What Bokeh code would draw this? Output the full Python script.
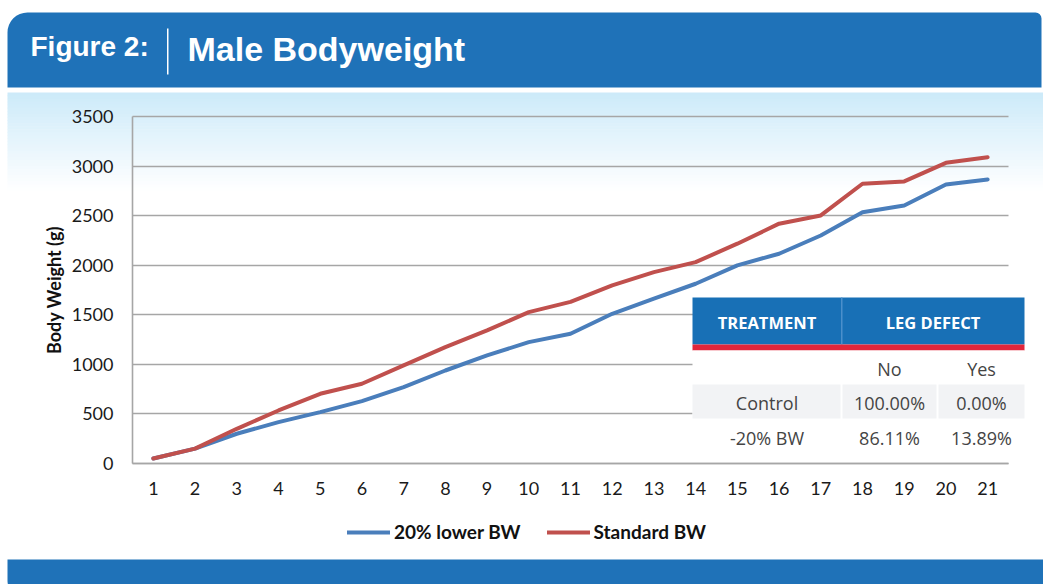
from bokeh.plotting import figure
from bokeh.models import Range1d, FixedTicker, BoxAnnotation, Label, Legend, LegendItem
from bokeh.embed import file_html
from bokeh.resources import INLINE

# ---------------- data ----------------
days = [1, 2, 3, 4, 5, 6, 7, 8, 9, 10, 11, 12, 13, 14, 15, 16, 17, 18, 19, 20, 21]
lower_bw = [50, 150, 300, 417, 518, 629, 770, 938, 1090, 1224, 1308, 1510, 1662,
            1813, 1998, 2116, 2300, 2535, 2603, 2815, 2865]
standard_bw = [50, 150, 350, 535, 703, 804, 989, 1173, 1342, 1527, 1630, 1796, 1930,
               2031, 2217, 2419, 2502, 2822, 2845, 3033, 3090]
series_names = ["20% lower BW", "Standard BW"]
y_ticks = [0, 500, 1000, 1500, 2000, 2500, 3000, 3500]

table_head = ["TREATMENT", "LEG DEFECT"]
table_cols = ["No", "Yes"]
treatments = ["Control", "-20% BW"]
leg_no = ["100.00%", "86.11%"]
leg_yes = ["0.00%", "13.89%"]

title_prefix = "Figure 2:"
title_text = "Male Bodyweight"

# ---------------- styles ----------------
BLUE_LINE = "#4a7ebb"
RED_LINE = "#c0504d"
HEADER_BLUE = "#1f72b8"
TABLE_BLUE = "#1870b6"
TABLE_RED = "#e1263b"
GRID = "#a6a6a6"

W, H = 1043, 584
# plot area in page pixels: day 0.5..21.5 -> x 132..1008, value 0..3500 -> y 463..116
FL, FR, FT, FB = 132, 1008, 116, 463
px_day = (FR - FL) / 21.0
px_val = (FB - FT) / 3500.0
x_start = 0.5 - FL / px_day
x_end = 0.5 + (W - FL) / px_day
y_start = -(H - FB) / px_val
y_end = FB / px_val

p = figure(width=W, height=H, output_backend="svg", toolbar_location=None,
           x_range=Range1d(x_start, x_end), y_range=Range1d(y_start, y_end),
           min_border=0, title=None)
p.outline_line_color = None
p.background_fill_color = "white"
p.border_fill_color = "white"


def sx(X):
    return X


def sy(Y):
    return H - Y


def box(X1, Y1, X2, Y2, color, level="annotation", radius=None):
    kw = {}
    if radius is not None:
        kw["border_radius"] = radius
    b = BoxAnnotation(left=sx(X1), right=sx(X2), top=sy(Y1), bottom=sy(Y2),
                      left_units="screen", right_units="screen",
                      top_units="screen", bottom_units="screen",
                      fill_color=color, fill_alpha=1.0, line_alpha=0,
                      level=level, **kw)
    p.add_layout(b)
    return b


def label(X, Y, text, size, color, font="Lato", style="normal",
          align="center", baseline="middle"):
    lb = Label(x=sx(X), y=sy(Y), x_units="screen", y_units="screen", text=text,
               text_font=font, text_font_size=f"{size}px", text_font_style=style,
               text_color=color, text_align=align, text_baseline=baseline)
    p.add_layout(lb)
    return lb


# light blue gradient behind the chart
top_c = (204, 234, 249)
n_bands = 32
g0, g1 = 92, 190
for i in range(n_bands):
    t = (i + 0.5) / n_bands
    c = tuple(int(round(top_c[k] + (255 - top_c[k]) * t)) for k in range(3))
    y1 = g0 + (g1 - g0) * i / n_bands
    y2 = g0 + (g1 - g0) * (i + 1) / n_bands + 0.6
    box(7, y1, 1050, y2, "#%02x%02x%02x" % c, level="image")

# header band
box(7, 12, 1041, 87, HEADER_BLUE, radius=(20, 6, 0, 0))
box(166.5, 28, 168, 74, "white")
label(30, 46, title_prefix, 28, "white", font="Liberation Sans", style="bold",
      align="left", baseline="middle")
label(187, 48, title_text, 34, "white", font="Liberation Sans", style="bold",
      align="left", baseline="middle")

# footer band
box(7, 559, 1060, 600, HEADER_BLUE, radius=(0, 0, 0, 20))

# axes / grid (axes pinned at the plot-area edges)
p.yaxis.fixed_location = 0.5
p.xaxis.fixed_location = 0
p.yaxis.ticker = FixedTicker(ticks=y_ticks)
p.xaxis.ticker = FixedTicker(ticks=days)
p.ygrid.ticker = FixedTicker(ticks=y_ticks)
p.ygrid.cross_bounds = (0.5, 21.5)
p.ygrid.bounds = (0, 3500)
p.xgrid.grid_line_color = None
p.ygrid.grid_line_color = GRID
p.ygrid.grid_line_width = 1.6
p.yaxis.bounds = (0, 3500)
p.xaxis.bounds = (0.5, 21.5)
for ax in (p.xaxis[0], p.yaxis[0]):
    ax.axis_line_color = GRID
    ax.axis_line_width = 1.6
    ax.major_tick_line_color = None
    ax.minor_tick_line_color = None
    ax.major_tick_out = 0
    ax.major_tick_in = 0
    ax.major_label_text_font = "Lato"
    ax.major_label_text_font_size = "18px"
    ax.major_label_text_color = "#1a1a1a"
p.yaxis.major_label_standoff = 19
p.xaxis.major_label_standoff = 18
p.yaxis.axis_label = "Body Weight (g)"
p.yaxis.axis_label_text_font = "Lato"
p.yaxis.axis_label_text_font_size = "18px"
p.yaxis.axis_label_text_font_style = "bold"
p.yaxis.axis_label_text_color = "#111111"
p.yaxis.axis_label_standoff = 4

# data lines
r_blue = p.line(days, lower_bw, line_color=BLUE_LINE, line_width=4,
                line_cap="round", line_join="round")
r_red = p.line(days, standard_bw, line_color=RED_LINE, line_width=4,
               line_cap="round", line_join="round")

legend = Legend(items=[LegendItem(label=series_names[0], renderers=[r_blue]),
                       LegendItem(label=series_names[1], renderers=[r_red])],
                orientation="horizontal", location=(347, sy(533) - 10),
                padding=0, margin=0, spacing=26, glyph_width=43, glyph_height=20,
                label_height=20, label_standoff=4,
                label_text_font="Lato", label_text_font_style="bold",
                label_text_font_size="19px", label_text_color="#111111",
                background_fill_alpha=0, border_line_alpha=0)
p.add_layout(legend, "center")

# table
TX1, TX2 = 692, 1024
CX1, CX2 = 841, 937
box(TX1, 297, TX2, 344, TABLE_BLUE)
box(CX1 - 0.5, 297, CX1 + 1, 344, "#4b8fcb")
box(TX1, 344, TX2, 350, TABLE_RED)
box(TX1, 350, TX2, 453, "white")
box(TX1, 384, CX1 - 1, 418, "#f2f3f5")
box(CX1 + 1, 384, CX2 - 1, 418, "#f2f3f5")
box(CX2 + 1, 384, TX2, 418, "#f2f3f5")

c1 = (TX1 + CX1) / 2
c2 = 889
c3 = 981
label(c1, 322, table_head[0], 16.5, "white", font="Open Sans", style="bold")
label((CX1 + TX2) / 2, 322, table_head[1], 16.5, "white", font="Open Sans", style="bold")
label(c2, 368, table_cols[0], 18, "#444444", font="Open Sans")
label(c3, 368, table_cols[1], 18, "#444444", font="Open Sans")
rows_y = [402, 437]
for i in range(len(treatments)):
    label(c1, rows_y[i], treatments[i], 18, "#444444", font="Open Sans")
    label(c2, rows_y[i], leg_no[i], 18, "#444444", font="Open Sans")
    label(c3, rows_y[i], leg_yes[i], 18, "#444444", font="Open Sans")

open("out.html", "w").write(file_html(p, INLINE))
